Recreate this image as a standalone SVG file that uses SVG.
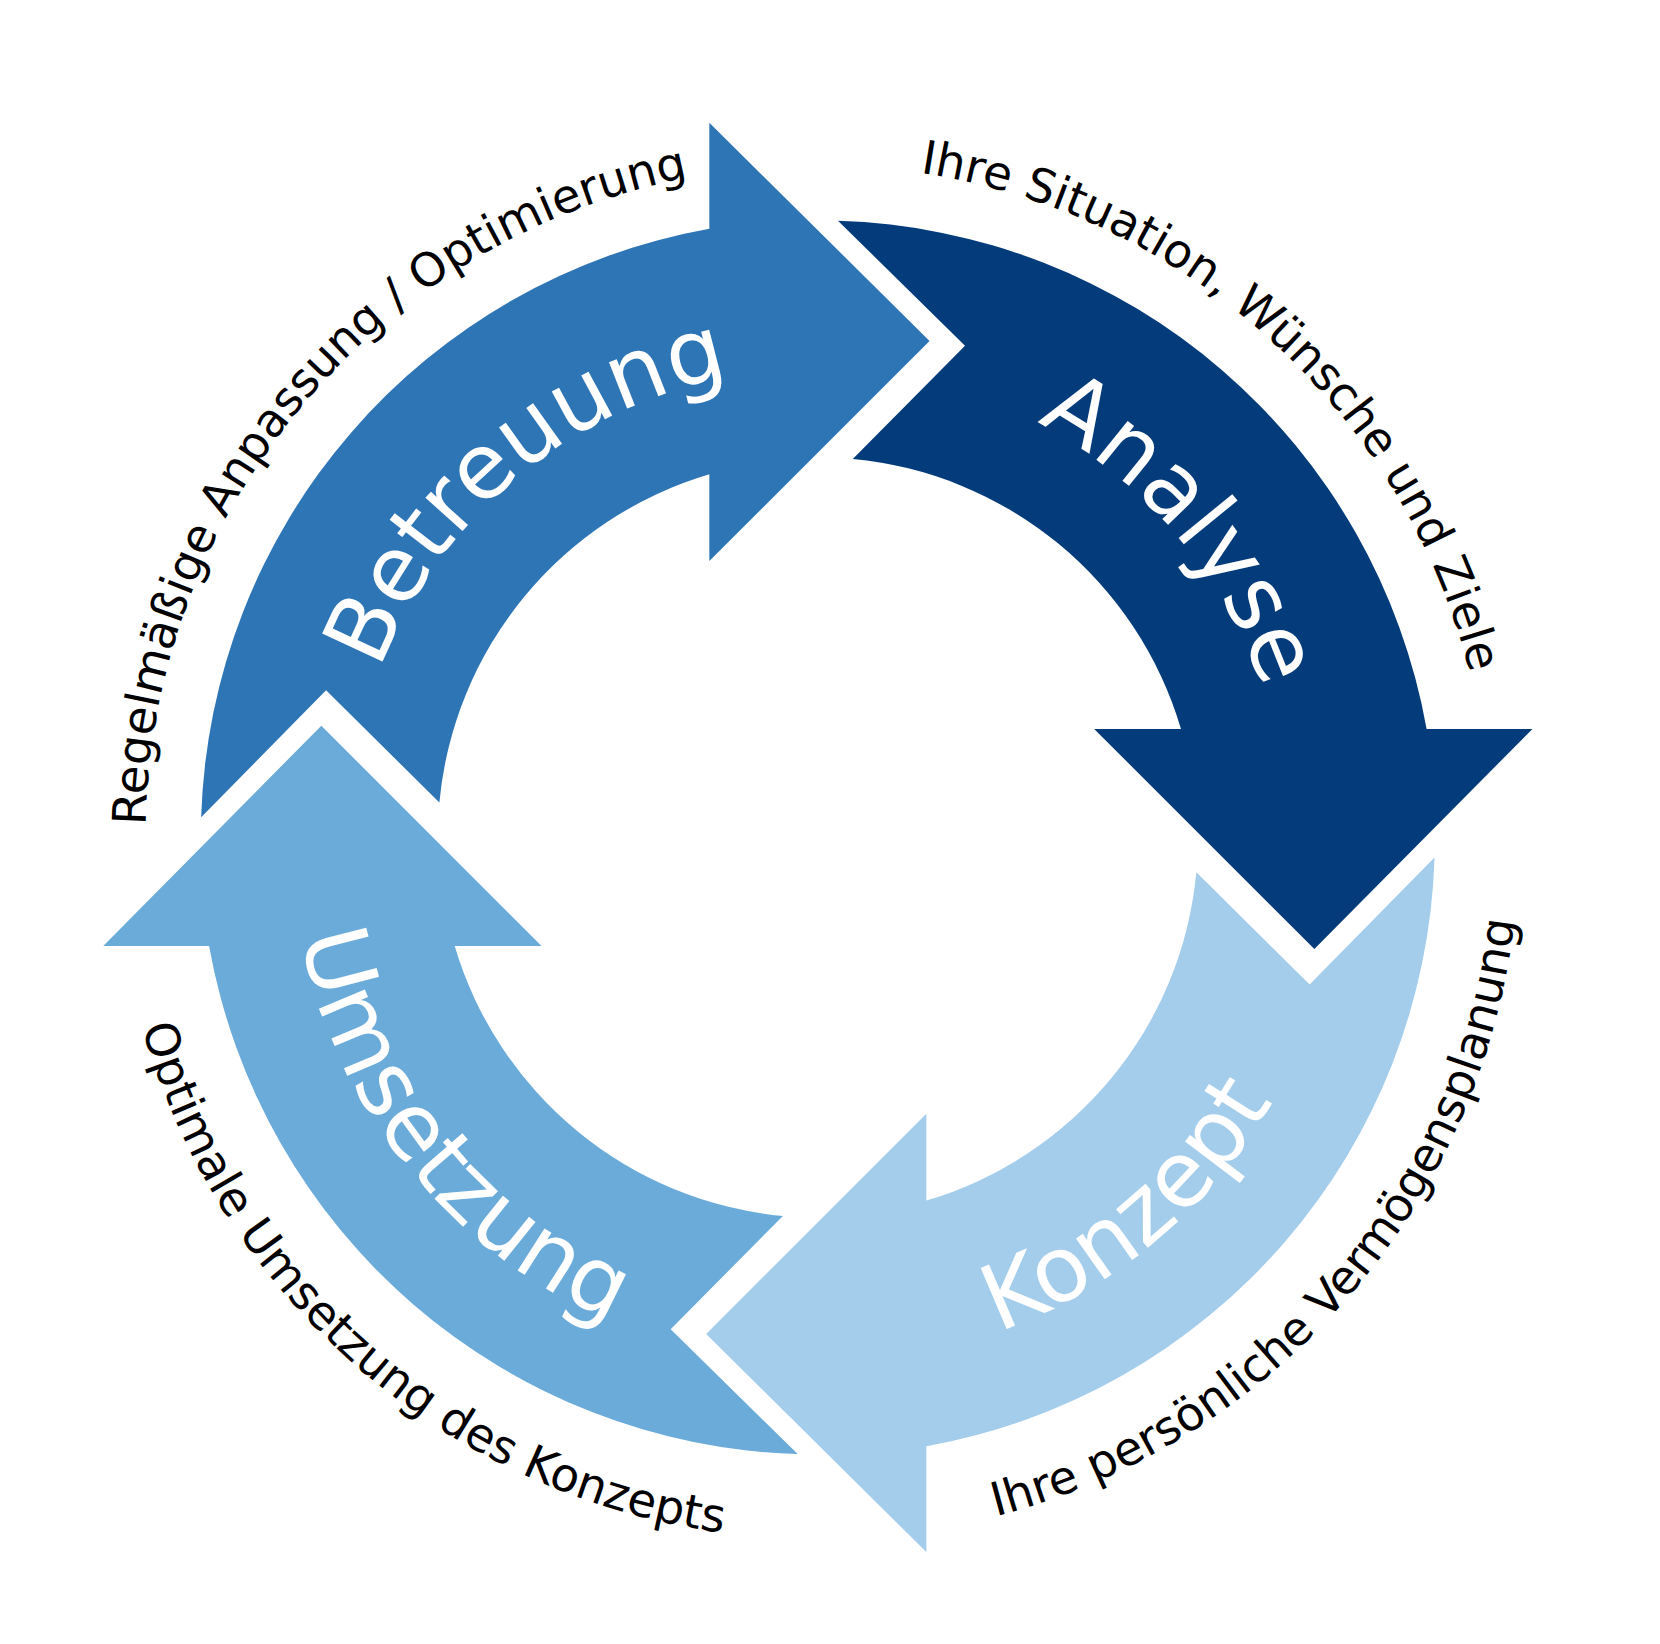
<svg xmlns="http://www.w3.org/2000/svg" width="1660" height="1644" viewBox="0 0 1660 1644">
<style>
.big{font-family:"DejaVu Sans",sans-serif;font-size:86px;fill:#fff}
.sm{font-family:"DejaVu Sans",sans-serif;font-size:44px;fill:#000}
</style>
<defs>
<path id="arrow" d="M190,772 A583,583 0 0 1 670,216 L670,116 L878,322 L670,530 L670,448 A358,358 0 0 0 415,758 L308,652 Z"/>
<path id="bcw" d="M1215.5,791 A443,443 0 1 1 329.5,791 A443,443 0 1 1 1215.5,791"/>
<path id="bccw" d="M1269.5,791 A497,497 0 1 0 275.5,791 A497,497 0 1 0 1269.5,791"/>
<path id="scw" d="M1407.5,791 A635,635 0 1 1 137.5,791 A635,635 0 1 1 1407.5,791"/>
<path id="sccw" d="M1435.5,791 A663,663 0 1 0 109.5,791 A663,663 0 1 0 1435.5,791"/>
</defs>
<rect width="1660" height="1644" fill="#fff"/>
<g transform="scale(1.0587)">
<g id="connectors"></g>
<g id="betreuung">
<use href="#arrow" fill="#2E75B6"/>
<text class="big" text-anchor="middle"><textPath href="#bcw" startOffset="63.9%">Betreuung</textPath></text>
<text class="sm" text-anchor="middle"><textPath href="#scw" startOffset="61.1%">Regelmäßige Anpassung / Optimierung</textPath></text>
</g>
<g id="analyse">
<use href="#arrow" fill="#043B7A" transform="rotate(90 772.5 791)"/>
<text class="big" text-anchor="middle"><textPath href="#bcw" startOffset="88.8%">Analyse</textPath></text>
<text class="sm" text-anchor="middle"><textPath href="#scw" startOffset="86.75%">Ihre Situation, Wünsche und Ziele</textPath></text>
</g>
<g id="konzept">
<use href="#arrow" fill="#A3CDEB" transform="rotate(180 772.5 791)"/>
<text class="big" text-anchor="middle"><textPath href="#bccw" startOffset="86.1%">Konzept</textPath></text>
<text class="sm" text-anchor="middle"><textPath href="#sccw" startOffset="88.6%">Ihre persönliche Vermögensplanung</textPath></text>
</g>
<g id="umsetzung">
<use href="#arrow" fill="#6AABD9" transform="rotate(270 772.5 791)"/>
<text class="big" text-anchor="middle"><textPath href="#bccw" startOffset="60.8%">Umsetzung</textPath></text>
<text class="sm" text-anchor="middle"><textPath href="#sccw" startOffset="63.6%">Optimale Umsetzung des Konzepts</textPath></text>
</g>
</g>
</svg>
